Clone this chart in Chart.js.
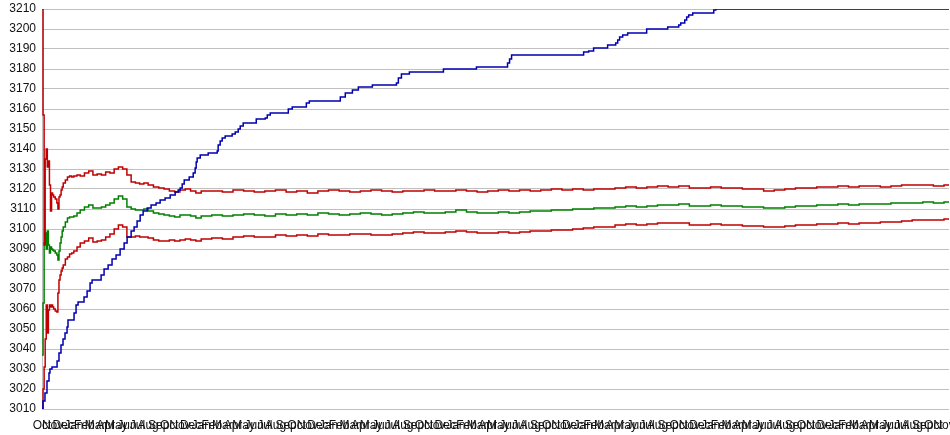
<!DOCTYPE html>
<html>
<head>
<meta charset="utf-8">
<script src="https://cdn.jsdelivr.net/npm/chart.js@4/dist/chart.umd.min.js"></script>
<style>
html,body{margin:0;padding:0;background:#fff;}
#wrap{width:950px;height:435px;position:relative;}
</style>
</head>
<body>
<div id="wrap"><canvas id="c" width="950" height="435"></canvas></div>
<script>
// x positions are months counted from the first October
const monthNames = ["Jan","Feb","Mar","Apr","May","Jun","Jul","Aug","Sep","Oct","Nov","Dec"];
const firstMonthIndex = 9; // Oct
const monthTicks = [0,1,2,3,4,5,6,7,8,9,10,11,12,13,14,15,16,17,18,19,20,21,22,23,24,25,26,27,28,29,
  30,31,32,33,34,35,36,37,38,39,40,41,42,43,44,45,46,47,48,49,50,51,52,53,54,55,56,57,58,59,
  60,61,62,63,64,65,66,67,68,69,70,71,72,73,74,75,76,77,78,79,80,81,82,83,84,85];
const xEnd = 85.47;

// blue cumulative staircase
const blueX = [0,0.09,0.28,0.47,0.66,0.75,0.94,1.42,1.6,1.79,1.98,2.17,2.36,2.45,3.02,3.21,3.4,3.96,4.25,4.53,4.72,
  5.57,5.85,6.23,6.6,6.98,7.36,7.74,8.02,8.4,8.68,8.96,9.25,9.53,9.91,10.28,10.75,11.13,11.6,12.08,12.55,12.83,
  13.02,13.21,13.4,13.87,14.25,14.43,14.53,14.62,14.91,15.66,16.51,16.6,16.79,16.98,17.26,17.92,18.21,18.49,18.68,
  18.96,20.19,21.04,21.23,21.51,23.21,23.58,24.91,25.19,28.11,28.58,29.25,29.81,31.13,33.4,33.58,33.87,34.62,
  37.83,40.94,43.87,44.06,44.25,51.04,51.51,51.98,53.3,54.06,54.25,54.43,54.72,55.19,56.98,58.96,60.0,60.19,
  60.57,60.75,60.94,61.32,63.3,63.49,85.47];
const blueY = [3010,3014,3018,3024,3028,3030,3031,3034,3038,3042,3045,3048,3051,3054.5,3058,3062,3063.5,3066,3069,3073,3074.5,
  3077,3080,3082,3085,3087,3090,3093,3096,3099,3101,3104,3107,3109,3110.5,3112,3113,3114.5,3115.5,3117,3118.5,3119.5,
  3120.5,3122.5,3124.5,3126,3128,3130.5,3133.5,3135.5,3137,3138,3139,3142,3144,3145.5,3146.5,3147.5,3148.5,3150,3151.5,
  3153,3155,3155.5,3157,3158,3160,3161,3163,3164,3166,3168,3169.5,3171,3172,3173,3175.5,3177.5,3178.5,
  3180,3181,3183,3185,3187,3188.5,3189,3190.5,3192,3193,3194.5,3196,3197,3198,3200,3201,3202,3203,
  3204.5,3206,3207,3208,3209.5,3210,3210];

// band series (upper red, green centre, lower red) on a shared x grid
const bandX = [0,0.1,0.2,0.3,0.4,0.5,0.6,0.7,0.8,0.9,1.0,1.1,1.25,1.4,1.5,1.6,1.7,1.8,1.9,2.0,2.2,2.4,2.6,2.8,3.0,
  3.3,3.6,4.0,4.4,4.8,5.2,5.6,6.0,6.4,6.8,7.2,7.6,8.0,8.4,8.8,9.2,9.6,10.0,10.5,11.0,11.5,12.0,12.5,13.0,13.5,14.0,14.5,15,
  16,17,18,19,20,21,22,23,24,25,26,27,28,29,30,31,32,33,34,35,36,37,
  38,39,40,41,42,43,44,45,46,47,48,49,50,51,52,53,
  54,55,56,57,58,59,60,61,62,63,64,65,66,67,68,69,70,71,72,73,74,75,76,77,78,79,80,81,82,83,84,85,85.47];
const upperY = [3210,3157,3092,3135,3140,3131,3134,3122,3109,3118,3117,3116,3115,3113,3110,3116,3117,3119.5,3121,3123,
  3124.5,3126,3126.5,3126,3126.5,3127,3126.5,3128,3129,3127,3127.5,3127,3128.5,3128,3130,3131,3130,3127,3123.5,3123,
  3122.5,3123,3122,3121,3120.5,3120,3119,3118.5,3119.5,3120,3119,3118,3119,
  3119,3118.5,3119.5,3119,3118.5,3119,3119.5,3118.5,3119,3118,3119,3119.5,3119,3118.5,3119,3119.5,3119,3118.5,3119,3119,3119.5,3119,
  3119,3119.5,3119,3118.5,3119,3119.5,3119,3119.5,3119,3119.5,3120,3119.5,3120,3119.5,3120,3120,
  3120.5,3121,3120.5,3121,3121.5,3121,3121.5,3120.5,3120.5,3121,3120.5,3120.5,3120,3120,3119,3119.5,3120,3120.5,3120.5,3121,
  3121,3121.5,3121,3121.5,3121.5,3121,3121.5,3122,3122,3122,3121.5,3122,3122];
const centreY = [3037,3063,3093,3098,3090,3099,3092,3088,3091,3090,3089.5,3089,3088,3087,3084.5,3089,3093,3096,3099,3101,
  3103.5,3105.5,3106,3106,3106.5,3108,3109.5,3111,3112,3110.5,3110.5,3111,3112,3113,3115,3116.5,3115,3111,3110,3109.5,
  3109.5,3110,3109,3108,3107.5,3107,3106.5,3106,3107,3107,3106.5,3105.5,3106.5,
  3107,3106.5,3107,3107.5,3107,3106.5,3107.5,3107,3107.5,3107,3108,3107.5,3107,3107.5,3108,3107.5,3107,3107.5,3108,3108.5,3108,3108,
  3108.5,3109.5,3108.5,3108,3108,3108.5,3108,3108.5,3109,3109,3109.5,3109.5,3110,3110,3110.5,3110.5,
  3111,3111.5,3111,3111.5,3112,3112,3112.5,3111.5,3111.5,3112,3111.5,3111.5,3111,3111,3110.5,3110.5,3111,3111.5,3111.5,3112,
  3112,3112.5,3112,3112.5,3112.5,3112.5,3113,3113,3113,3113.5,3113,3113.5,3113.5];
const lowerY = [3010,3020,3031,3045,3062,3048,3059.5,3062,3061,3062,3061,3060,3059,3058.5,3068,3074.5,3077,3079,3080.5,3082,
  3085,3086,3087.5,3088,3089,3091,3093,3094,3095.5,3093.5,3094,3094.5,3096,3097.5,3100,3102,3101,3096,3096,3096.5,
  3096,3096,3095.5,3094.5,3094,3094,3094.5,3094,3094.5,3095,3094.5,3094,3095,
  3095.5,3095,3096,3096.5,3096,3096,3097,3096.5,3097,3096.5,3097.5,3097,3097,3097.5,3097.5,3097,3097,3097.5,3098,3098.5,3098,3098,
  3098.5,3099,3098.5,3098,3098,3098.5,3098,3098.5,3099,3099,3099.5,3099.5,3100,3100.5,3101,3101,
  3102,3102.5,3102,3102.5,3103,3103,3103,3102,3102,3102.5,3102,3102,3101.5,3101.5,3101,3101,3101.5,3102,3102,3102.5,
  3102.5,3103,3102.5,3103,3103,3103.5,3103.5,3104,3104.5,3104.5,3104.5,3105,3105];

const pts = (xs, ys) => xs.map((x, i) => ({x: x, y: ys[i]}));
const lineDs = (data, color) => ({
  data: data, borderColor: color, borderWidth: 1.5, pointRadius: 0,
  stepped: true, fill: false, tension: 0
});

new Chart(document.getElementById('c'), {
  type: 'line',
  data: {
    datasets: [
      lineDs(pts(blueX, blueY), '#0000b0'),
      lineDs(pts(bandX, upperY), '#c00000'),
      lineDs(pts(bandX, centreY), '#008000'),
      lineDs(pts(bandX, lowerY), '#c00000')
    ]
  },
  options: {
    responsive: false,
    animation: false,
    layout: {padding: {left: 0, top: 9, right: 1, bottom: 0}},
    plugins: {legend: {display: false}, tooltip: {enabled: false}},
    scales: {
      x: {
        type: 'linear',
        min: 0,
        max: xEnd,
        grid: {display: false, drawTicks: false},
        border: {display: false},
        afterBuildTicks: (scale) => { scale.ticks = monthTicks.map(v => ({value: v})); },
        afterFit: (scale) => { scale.paddingLeft = 0; scale.paddingRight = 0; scale.height = 26; },
        ticks: {
          autoSkip: false, maxRotation: 0, minRotation: 0, padding: 9,
          color: '#111', font: {family: 'Liberation Sans, Arial, sans-serif', size: 12},
          callback: (v, i) => monthNames[(firstMonthIndex + monthTicks[i]) % 12]
        }
      },
      y: {
        min: 3010,
        max: 3210,
        grid: {color: '#c0c0c0', lineWidth: 1, drawTicks: false},
        border: {display: true, color: '#c0c0c0'},
        afterFit: (scale) => { scale.width = 42; scale.paddingTop = 0; scale.paddingBottom = 0; },
        ticks: {
          stepSize: 10, padding: 6,
          color: '#111', font: {family: 'Liberation Sans, Arial, sans-serif', size: 12},
          callback: (v) => String(v)
        }
      }
    }
  }
});
</script>
</body>
</html>
